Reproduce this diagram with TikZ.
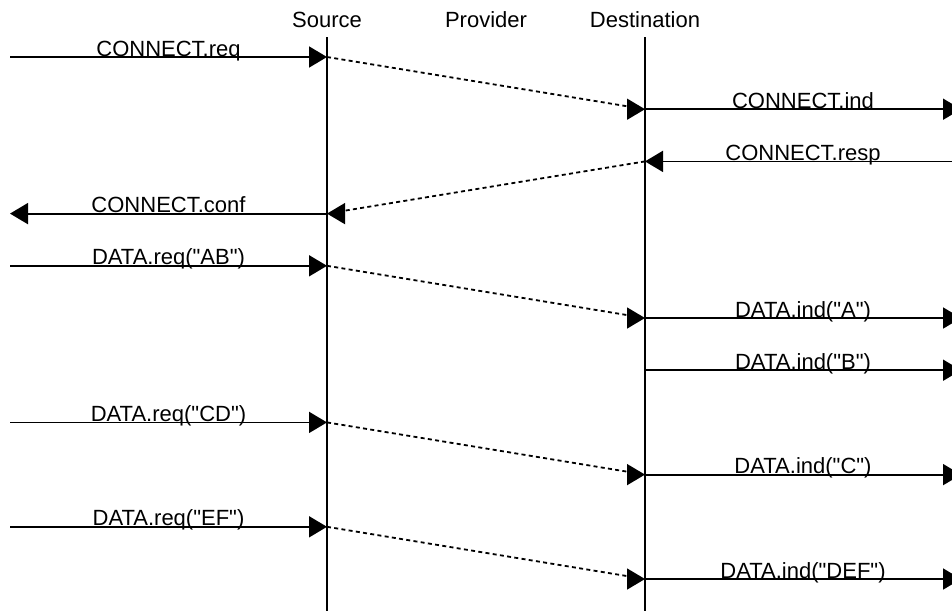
\documentclass[tikz,border=0pt]{standalone}
\usepackage{fontspec}
\setmainfont{Liberation Sans}[Ligatures=TeXOff]
\usetikzlibrary{arrows.meta}
\begin{document}
\begin{tikzpicture}[x=1pt,y=-1pt,
  life/.style={line width=1.8pt},
  msg/.style={line width=1.8pt,-{Triangle[length=18pt,width=21pt]}},
  hop/.style={line width=1.8pt,dash pattern=on 4pt off 3.3pt},
  headonly/.style={line width=1.5pt,-{Triangle[length=18pt,width=21pt]}},
  lbl/.style={font=\fontsize{22}{26}\selectfont,inner sep=0pt,anchor=base},
  title/.style={font=\fontsize{22}{26}\selectfont,inner sep=0pt,anchor=base}]
\useasboundingbox (0,0) rectangle (952,611);
\clip (0,0) rectangle (952,611);
% lifelines
\node[title] (srcL) at (327,27) {Source};
\node[title] (prvL) at (486,27) {Provider};
\node[title] (dstL) at (645,27) {Destination};
\coordinate (srcT) at (327,37); \coordinate (srcB) at (327,611);
\coordinate (dstT) at (645,37); \coordinate (dstB) at (645,611);
\draw[life] (srcT) -- (srcB);
\draw[life] (dstT) -- (dstB);
% event coordinates
\foreach \i in {0,...,10}{
  \pgfmathsetmacro{\yy}{57+52.2*\i}
  \coordinate (L\i) at (10,\yy);
  \coordinate (S\i) at (327,\yy);
  \coordinate (D\i) at (645,\yy);
  \coordinate (R\i) at (961,\yy);
}
% CONNECT
\draw[msg] (L0) -- (S0) node[lbl,pos=0.5,yshift=1pt] (m0) {CONNECT.req};
\draw[hop] (S0) -- (D1);
\draw[headonly] ([xshift=-2pt]D1) -- (D1);
\draw[msg] (D1) -- (R1) node[lbl,pos=0.5,yshift=1pt] (m1) {CONNECT.ind};
\draw[msg] (R2) -- (D2) node[lbl,pos=0.5,yshift=1pt] (m2) {CONNECT.resp};
\draw[hop] (D2) -- (S3);
\draw[headonly] ([xshift=2pt]S3) -- (S3);
\draw[msg] (S3) -- (L3) node[lbl,pos=0.5,yshift=1pt] (m3) {CONNECT.conf};
% DATA AB
\draw[msg] (L4) -- (S4) node[lbl,pos=0.5,yshift=1pt] (m4) {DATA.req("AB")};
\draw[hop] (S4) -- (D5);
\draw[headonly] ([xshift=-2pt]D5) -- (D5);
\draw[msg] (D5) -- (R5) node[lbl,pos=0.5,yshift=1pt] (m5) {DATA.ind("A")};
\draw[msg] (D6) -- (R6) node[lbl,pos=0.5,yshift=1pt] (m6) {DATA.ind("B")};
% DATA CD
\draw[msg] (L7) -- (S7) node[lbl,pos=0.5,yshift=1pt] (m7) {DATA.req("CD")};
\draw[hop] (S7) -- (D8);
\draw[headonly] ([xshift=-2pt]D8) -- (D8);
\draw[msg] (D8) -- (R8) node[lbl,pos=0.5,yshift=1pt] (m8) {DATA.ind("C")};
% DATA EF
\draw[msg] (L9) -- (S9) node[lbl,pos=0.5,yshift=1pt] (m9) {DATA.req("EF")};
\draw[hop] (S9) -- (D10);
\draw[headonly] ([xshift=-2pt]D10) -- (D10);
\draw[msg] (D10) -- (R10) node[lbl,pos=0.5,yshift=1pt] (m10) {DATA.ind("DEF")};
\end{tikzpicture}
\end{document}
